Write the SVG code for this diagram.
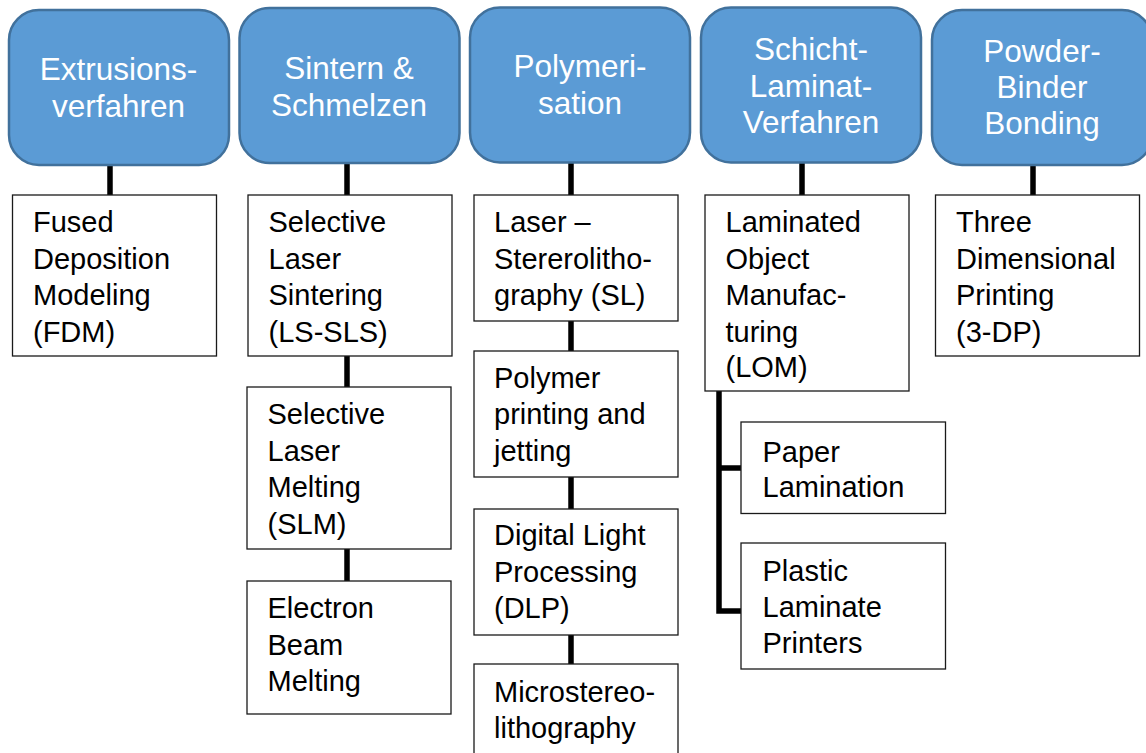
<svg xmlns="http://www.w3.org/2000/svg" width="1146" height="753" viewBox="0 0 1146 753">
<style>
.hd{fill:#5B9BD5;stroke:#41719C;stroke-width:2.5}
.ht{fill:#fff;font-family:"Liberation Sans",Arial,sans-serif;font-size:31.5px;text-anchor:middle}
.bx{fill:#fff;stroke:#1a1a1a;stroke-width:1.3}
.bt{fill:#000;font-family:"Liberation Sans",Arial,sans-serif;font-size:29px}
.cn{stroke:#000;stroke-width:5.5;fill:none}
</style>
<rect width="1146" height="753" fill="#fff"/>
<g id="connectors">
<line class="cn" x1="110" y1="164" x2="110" y2="195"/>
<line class="cn" x1="347" y1="163" x2="347" y2="195"/>
<line class="cn" x1="347" y1="356" x2="347" y2="387"/>
<line class="cn" x1="347" y1="549" x2="347" y2="581"/>
<line class="cn" x1="571" y1="162" x2="571" y2="195"/>
<line class="cn" x1="571" y1="321" x2="571" y2="351"/>
<line class="cn" x1="571" y1="477" x2="571" y2="509"/>
<line class="cn" x1="571" y1="635" x2="571" y2="664"/>
<line class="cn" x1="802" y1="162" x2="802" y2="195"/>
<line class="cn" x1="1033" y1="165" x2="1033" y2="195"/>
<path class="cn" d="M719 391 V611 H741 M719 468 H741"/>
</g>
<g id="h1"><rect class="hd" x="9" y="10" width="220" height="155" rx="30"/><text class="ht" x="118.5" y="80">Extrusions-</text><text class="ht" x="118.5" y="117">verfahren</text></g>
<g id="h2"><rect class="hd" x="239.5" y="8" width="220" height="155" rx="30"/><text class="ht" x="349" y="79">Sintern &amp;</text><text class="ht" x="349" y="116">Schmelzen</text></g>
<g id="h3"><rect class="hd" x="470" y="7.5" width="220" height="155" rx="30"/><text class="ht" x="580" y="77">Polymeri-</text><text class="ht" x="580" y="114">sation</text></g>
<g id="h4"><rect class="hd" x="701" y="7.5" width="220" height="155" rx="30"/><text class="ht" x="811" y="60">Schicht-</text><text class="ht" x="811" y="97">Laminat-</text><text class="ht" x="811" y="133">Verfahren</text></g>
<g id="h5"><rect class="hd" x="932" y="10" width="220" height="155" rx="30"/><text class="ht" x="1042" y="62">Powder-</text><text class="ht" x="1042" y="98">Binder</text><text class="ht" x="1042" y="134">Bonding</text></g>
<g id="b1"><rect class="bx" x="12.5" y="195" width="204" height="161"/><text class="bt" x="33" y="232">Fused</text><text class="bt" x="33" y="268.5">Deposition</text><text class="bt" x="33" y="305">Modeling</text><text class="bt" x="33" y="341.5">(FDM)</text></g>
<g id="b2"><rect class="bx" x="248" y="195" width="204" height="161"/><text class="bt" x="268.5" y="232">Selective</text><text class="bt" x="268.5" y="268.5">Laser</text><text class="bt" x="268.5" y="305">Sintering</text><text class="bt" x="268.5" y="341.5">(LS-SLS)</text></g>
<g id="b3"><rect class="bx" x="247" y="387" width="204" height="162"/><text class="bt" x="267.5" y="424">Selective</text><text class="bt" x="267.5" y="460.5">Laser</text><text class="bt" x="267.5" y="497">Melting</text><text class="bt" x="267.5" y="533.5">(SLM)</text></g>
<g id="b4"><rect class="bx" x="247" y="581" width="204" height="133"/><text class="bt" x="267.5" y="618">Electron</text><text class="bt" x="267.5" y="654.5">Beam</text><text class="bt" x="267.5" y="691">Melting</text></g>
<g id="b5"><rect class="bx" x="474" y="195" width="204" height="126"/><text class="bt" x="494" y="232">Laser –</text><text class="bt" x="494" y="268.5">Stererolitho-</text><text class="bt" x="494" y="305">graphy (SL)</text></g>
<g id="b6"><rect class="bx" x="474" y="351" width="204" height="126"/><text class="bt" x="494" y="388">Polymer</text><text class="bt" x="494" y="424">printing and</text><text class="bt" x="494" y="460.5">jetting</text></g>
<g id="b7"><rect class="bx" x="474" y="509" width="204" height="126"/><text class="bt" x="494" y="545">Digital Light</text><text class="bt" x="494" y="581.5">Processing</text><text class="bt" x="494" y="618">(DLP)</text></g>
<g id="b8"><rect class="bx" x="474" y="664" width="204" height="100"/><text class="bt" x="494" y="702">Microstereo-</text><text class="bt" x="494" y="738">lithography</text></g>
<g id="b9"><rect class="bx" x="705" y="195" width="204" height="196"/><text class="bt" x="725.5" y="232">Laminated</text><text class="bt" x="725.5" y="268.5">Object</text><text class="bt" x="725.5" y="305">Manufac-</text><text class="bt" x="725.5" y="341.5">turing</text><text class="bt" x="725.5" y="377">(LOM)</text></g>
<g id="b10"><rect class="bx" x="741" y="422" width="204.5" height="91.5"/><text class="bt" x="762.5" y="461.5">Paper</text><text class="bt" x="762.5" y="497">Lamination</text></g>
<g id="b11"><rect class="bx" x="741" y="543" width="204.5" height="126"/><text class="bt" x="762.5" y="581">Plastic</text><text class="bt" x="762.5" y="617">Laminate</text><text class="bt" x="762.5" y="652.5">Printers</text></g>
<g id="b12"><rect class="bx" x="935.5" y="195" width="204" height="161"/><text class="bt" x="956" y="232">Three</text><text class="bt" x="956" y="268.5">Dimensional</text><text class="bt" x="956" y="305">Printing</text><text class="bt" x="956" y="341.5">(3-DP)</text></g>
</svg>
